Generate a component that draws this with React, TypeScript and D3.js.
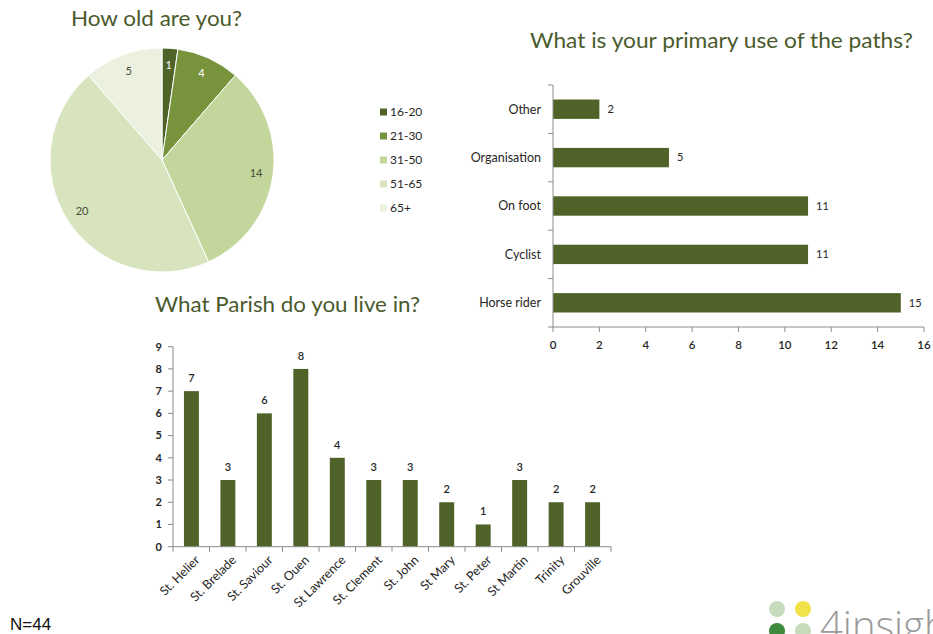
import * as d3 from "d3";

// How old are you?
const ageGroups = ["16-20", "21-30", "31-50", "51-65", "65+"];
const ageCounts = [1, 4, 14, 20, 5];
const ageColors = ["#4f6228", "#77933c", "#c3d69b", "#d7e4bd", "#ebf1de"];
const ageLabelColors = ["#ffffff", "#ffffff", "#4a4a3a", "#4a4a3a", "#4a4a3a"];

// What is your primary use of the paths?
const useCategories = ["Other", "Organisation", "On foot", "Cyclist", "Horse rider"];
const useCounts = [2, 5, 11, 11, 15];
const useTicks = [0, 2, 4, 6, 8, 10, 12, 14, 16];

// What Parish do you live in?
const parishes = [
  "St. Helier", "St. Brelade", "St. Saviour", "St. Ouen", "St Lawrence", "St. Clement",
  "St. John", "St Mary", "St. Peter", "St Martin", "Trinity", "Grouville",
];
const parishCounts = [7, 3, 6, 8, 4, 3, 3, 2, 1, 3, 2, 2];
const parishTicks = [0, 1, 2, 3, 4, 5, 6, 7, 8, 9];

const W = 933;
const H = 634;
const BAR = "#4f6228";
const AXIS = "#8c8c8c";
const TITLE = "#4a5a2c";
const FONT = "Lato, 'Open Sans', sans-serif";
const TEXT = "#262626";

function AgePie() {
  const cx = 162;
  const cy = 160;
  const r = 112;
  const arcs = d3.pie<number>().sort(null)(ageCounts);
  const arc = d3.arc<d3.PieArcDatum<number>>().innerRadius(0).outerRadius(r);
  const labelArc = d3.arc<d3.PieArcDatum<number>>().innerRadius(95).outerRadius(95);
  const legendY = d3.scalePoint<string>().domain(ageGroups).range([112, 208]);
  return (
    <g>
      <text x={71} y={26} fontSize={22} fill={TITLE} fontFamily={FONT}
        textLength={171} lengthAdjust="spacingAndGlyphs">How old are you?</text>
      <g transform={`translate(${cx},${cy})`}>
        {arcs.map((a, i) => (
          <path key={i} d={arc(a) ?? ""} fill={ageColors[i]} stroke="#fff" strokeWidth={1} />
        ))}
        {arcs.map((a, i) => {
          const [lx, ly] = labelArc.centroid(a);
          return (
            <text key={i} x={lx} y={ly} dy="0.35em" textAnchor="middle" fontSize={11}
              fill={ageLabelColors[i]} fontFamily={FONT}>{ageCounts[i]}</text>
          );
        })}
      </g>
      {ageGroups.map((g, i) => (
        <g key={g} transform={`translate(380,${legendY(g)})`}>
          <rect x={0} y={-3.5} width={7} height={7} fill={ageColors[i]} />
          <text x={10} y={0} dy="0.35em" fontSize={12} fill={TEXT} fontFamily={FONT}>{g}</text>
        </g>
      ))}
    </g>
  );
}

function UseBars() {
  const x = d3.scaleLinear().domain([0, 16]).range([553, 924]);
  const y = d3.scaleBand<string>().domain(useCategories).range([85, 327]).paddingInner(0.6).paddingOuter(0.3);
  const bounds = d3.range(useCategories.length + 1).map((i) => 85 + (i * (327 - 85)) / useCategories.length);
  return (
    <g>
      <text x={530} y={48} fontSize={22} fill={TITLE} fontFamily={FONT}
        textLength={383} lengthAdjust="spacingAndGlyphs">What is your primary use of the paths?</text>
      {useCategories.map((c, i) => (
        <g key={c}>
          <rect x={x(0)} y={y(c)} width={x(useCounts[i]) - x(0)} height={y.bandwidth()} fill={BAR} />
          <text x={x(useCounts[i]) + 8} y={(y(c) ?? 0) + y.bandwidth() / 2} dy="0.35em" fontSize={11}
            fill={TEXT} fontFamily={FONT}>{useCounts[i]}</text>
          <text x={541} y={(y(c) ?? 0) + y.bandwidth() / 2} dy="0.35em" textAnchor="end" fontSize={12.5}
            fill={TEXT} fontFamily={FONT}>{c}</text>
        </g>
      ))}
      <line x1={x(0)} x2={x(0)} y1={85} y2={327} stroke={AXIS} />
      {bounds.map((b, i) => (
        <line key={i} x1={x(0) - 5} x2={x(0)} y1={b} y2={b} stroke={AXIS} />
      ))}
      <line x1={x(0)} x2={x(16)} y1={327} y2={327} stroke={AXIS} />
      {useTicks.map((t) => (
        <g key={t}>
          <line x1={x(t)} x2={x(t)} y1={327} y2={332} stroke={AXIS} />
          <text x={x(t)} y={345} dy="0.35em" textAnchor="middle" fontSize={11.5} fontWeight={600}
            fill={TEXT} fontFamily={FONT}>{t}</text>
        </g>
      ))}
    </g>
  );
}

function ParishBars() {
  const x = d3.scaleBand<string>().domain(parishes).range([173, 611]).paddingInner(0.59).paddingOuter(0.3);
  const y = d3.scaleLinear().domain([0, 9]).range([546.7, 346.7]);
  const n = parishes.length;
  const bounds = d3.range(n + 1).map((i) => 173 + (i * (611 - 173)) / n);
  return (
    <g>
      <text x={155} y={312} fontSize={22} fill={TITLE} fontFamily={FONT}
        textLength={265} lengthAdjust="spacingAndGlyphs">What Parish do you live in?</text>
      {parishes.map((p, i) => {
        const bx = x(p) ?? 0;
        const cxp = bx + x.bandwidth() / 2;
        return (
          <g key={p}>
            <rect x={bx} y={y(parishCounts[i])} width={x.bandwidth()} height={y(0) - y(parishCounts[i])} fill={BAR} />
            <text x={cxp} y={y(parishCounts[i]) - 13} dy="0.35em" textAnchor="middle" fontSize={11}
              fontWeight={600} fill={TEXT} fontFamily={FONT}>{parishCounts[i]}</text>
            <text transform={`translate(${cxp + 6},${y(0) + 11}) rotate(-45)`} textAnchor="end" dy="0.35em"
              fontSize={12.5} fill={TEXT} fontFamily={FONT}>{p}</text>
          </g>
        );
      })}
      <line x1={173} x2={173} y1={y(9)} y2={y(0)} stroke={AXIS} />
      {parishTicks.map((t) => (
        <g key={t}>
          <line x1={168} x2={173} y1={y(t)} y2={y(t)} stroke={AXIS} />
          <text x={162} y={y(t)} dy="0.35em" textAnchor="end" fontSize={11} fontWeight={700}
            fill={TEXT} fontFamily={FONT}>{t}</text>
        </g>
      ))}
      <line x1={173} x2={611} y1={y(0)} y2={y(0)} stroke={AXIS} />
      {bounds.map((b, i) => (
        <line key={i} x1={b} x2={b} y1={y(0)} y2={y(0) + 5} stroke={AXIS} />
      ))}
    </g>
  );
}

function Logo() {
  return (
    <g>
      <circle cx={777} cy={609} r={8} fill="#c7dcbc" />
      <circle cx={803} cy={609} r={8} fill="#f2e24a" />
      <circle cx={777} cy={631} r={8} fill="#3f8a3c" />
      <circle cx={803} cy={631} r={8} fill="#c7dcbc" />
      <text x={820} y={640} fontSize={40} fontWeight={300} fill="#9a9a9a"
        fontFamily="'Open Sans', sans-serif">4insigh</text>
    </g>
  );
}

export default function App() {
  return (
    <svg width={W} height={H} viewBox={`0 0 ${W} ${H}`}
      style={{ position: "absolute", left: 0, top: 0, background: "#fff" }}>
      <rect width={W} height={H} fill="#fff" />
      <AgePie />
      <UseBars />
      <ParishBars />
      <text x={10} y={630} fontSize={17} fill="#111" fontFamily="'Liberation Sans', Arial, sans-serif">N=44</text>
      <Logo />
    </svg>
  );
}
